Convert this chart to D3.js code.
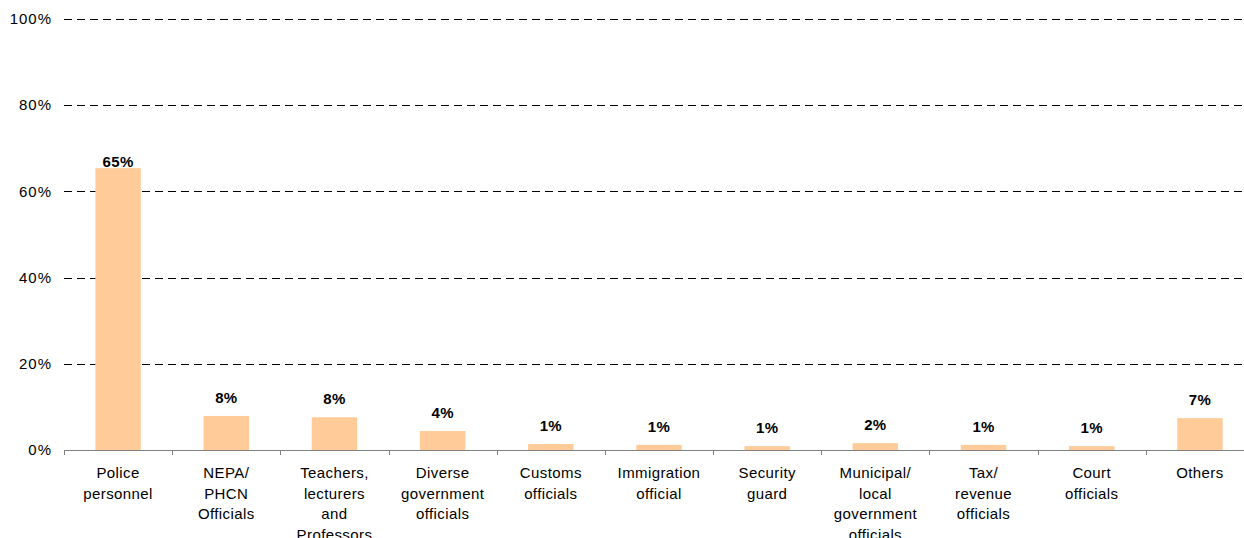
<!DOCTYPE html>
<html>
<head>
<meta charset="utf-8">
<script src="https://cdn.jsdelivr.net/npm/d3@7"></script>
<style>
  html, body { margin: 0; padding: 0; background: #fff; }
  svg { display: block; font-family: "Liberation Sans", Arial, sans-serif; }
</style>
</head>
<body>
<svg id="chart" width="1244" height="538"></svg>
<script>
// Categories (line breaks mark where each axis label wraps)
const categories = [
  "Police\npersonnel",
  "NEPA/\nPHCN\nOfficials",
  "Teachers,\nlecturers\nand\nProfessors",
  "Diverse\ngovernment\nofficials",
  "Customs\nofficials",
  "Immigration\nofficial",
  "Security\nguard",
  "Municipal/\nlocal\ngovernment\nofficials",
  "Tax/\nrevenue\nofficials",
  "Court\nofficials",
  "Others"
];

// Share of respondents, in percent
const shares = [65.4, 7.9, 7.6, 4.4, 1.4, 1.2, 0.9, 1.6, 1.2, 0.9, 7.4];

// Value axis ticks, in percent
const yTicks = [0, 20, 40, 60, 80, 100];

const svg = d3.select("#chart");
const plotLeft = 64, plotRight = 1254, plotTop = 19, plotBottom = 450;

const x = d3.scaleBand()
  .domain(d3.range(categories.length))
  .range([plotLeft, plotRight])
  .padding(0);

const y = d3.scaleLinear()
  .domain([0, 100])
  .range([plotBottom, plotTop]);

// Dashed horizontal gridlines
svg.append("g")
  .selectAll("line")
  .data(yTicks.filter(t => t > 0))
  .join("line")
  .attr("x1", plotLeft)
  .attr("x2", plotRight)
  .attr("y1", d => Math.round(y(d)) + 0.5)
  .attr("y2", d => Math.round(y(d)) + 0.5)
  .attr("stroke", "#000")
  .attr("stroke-width", 1)
  .attr("stroke-dasharray", "8,5");

// Value axis labels
svg.append("g")
  .selectAll("text")
  .data(yTicks)
  .join("text")
  .attr("x", 52)
  .attr("y", d => y(d))
  .attr("dy", "0.35em")
  .attr("text-anchor", "end")
  .attr("font-size", "15px")
  .attr("letter-spacing", "1px")
  .attr("fill", "#000")
  .text(d => d + "%");

// Bars
const barFrac = 0.42;
svg.append("g")
  .selectAll("rect")
  .data(shares)
  .join("rect")
  .attr("x", (d, i) => x(i) + x.bandwidth() * (1 - barFrac) / 2)
  .attr("width", x.bandwidth() * barFrac)
  .attr("y", d => y(d))
  .attr("height", d => y(0) - y(d))
  .attr("fill", "#FFCC99");

// Category axis line and boundary ticks
const axis = svg.append("g");
axis.append("line")
  .attr("x1", plotLeft).attr("x2", plotRight)
  .attr("y1", plotBottom + 0.5).attr("y2", plotBottom + 0.5)
  .attr("stroke", "#808080");
axis.selectAll("line.tick")
  .data(d3.range(categories.length))
  .join("line")
  .attr("class", "tick")
  .attr("x1", i => Math.round(x(i)) + 0.5)
  .attr("x2", i => Math.round(x(i)) + 0.5)
  .attr("y1", plotBottom)
  .attr("y2", plotBottom + 5)
  .attr("stroke", "#808080");

// Category labels
axis.selectAll("text.cat")
  .data(categories)
  .join("text")
  .attr("class", "cat")
  .attr("text-anchor", "middle")
  .attr("font-size", "15px")
  .attr("letter-spacing", "0.4px")
  .attr("fill", "#000")
  .each(function(d, i) {
    const t = d3.select(this);
    d.split("\n").forEach((line, k) => {
      t.append("tspan")
        .attr("x", x(i) + x.bandwidth() / 2)
        .attr("y", 478 + k * 20.5)
        .text(line);
    });
  });

// Value labels above bars; the tallest bar's label rests on its top edge
const tallest = d3.maxIndex(shares);
svg.append("g")
  .selectAll("text")
  .data(shares)
  .join("text")
  .attr("x", (d, i) => x(i) + x.bandwidth() / 2)
  .attr("y", (d, i) => y(d) - (i === tallest ? 1 : 13))
  .attr("text-anchor", "middle")
  .attr("font-size", "15px")
  .attr("letter-spacing", "0.3px")
  .attr("font-weight", "bold")
  .attr("fill", "#000")
  .text(d => Math.round(d) + "%");
</script>
</body>
</html>
